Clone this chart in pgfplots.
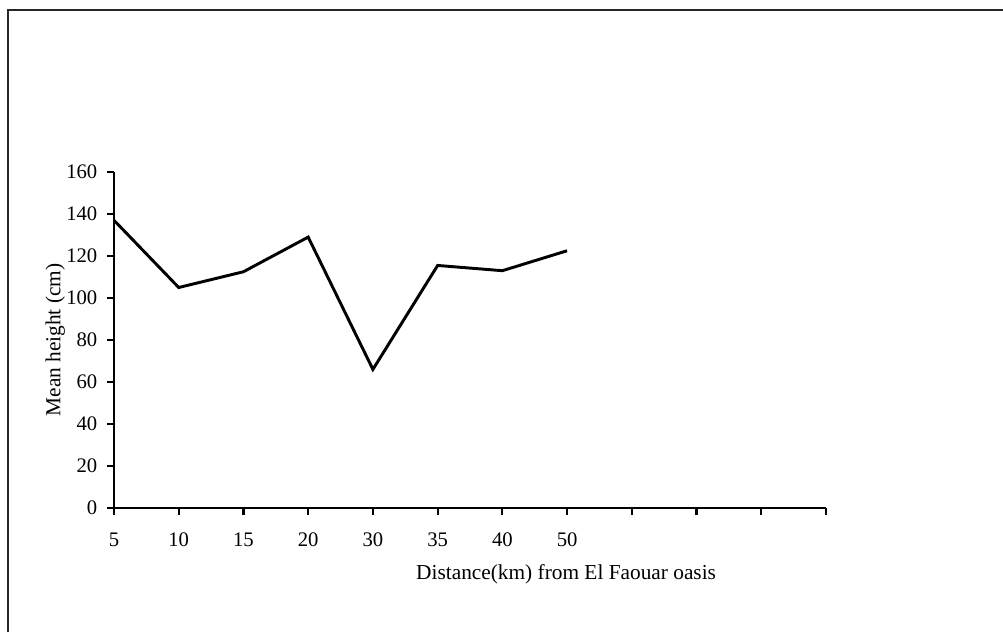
\documentclass[border=0pt]{standalone}
\usepackage{pgfplots}
\pgfplotsset{compat=1.18}
\usepackage{fontspec}
\setmainfont{Liberation Serif}
\begin{document}
\begin{tikzpicture}[x=0.75pt,y=0.75pt]
% page = 1003 x 632 px, axis origin at (114,508) px
\useasboundingbox (-114,-124) rectangle (889,508);
\draw[line width=1.4pt,black!85] (-106,-124) -- (-106,498) -- (889,498);
\begin{axis}[
    at={(0,0)}, anchor=origin,
    scale only axis,
    width=534pt, height=252pt,
    xmin=0, xmax=11, ymin=0, ymax=160,
    axis lines=left,
    axis line style={line width=1.8pt,-},
    xtick={0,1,...,11},
    xticklabels={5,10,15,20,30,35,40,50,,,,},
    ytick={0,20,...,160},
    tick align=outside,
    major tick length=5pt,
    tick style={line width=1.6pt,black},
    tick label style={font=\fontsize{15.5}{17}\selectfont},
    /pgf/number format/assume math mode=true,
    xticklabel style={yshift=-10pt},
    yticklabel style={xshift=-4pt},
    ylabel={Mean height (cm)},
    ylabel style={font=\fontsize{16}{18}\selectfont, at={(rel axis cs:0,0.5)}, anchor=center, yshift=44pt},
    xlabel={Distance(km) from El Faouar oasis},
    xlabel style={font=\fontsize{16}{18}\selectfont, at={(rel axis cs:0.635,0)}, anchor=center, yshift=-50pt},
    clip=false,
]
\addplot[black, line width=2.2pt, line join=miter] coordinates {
    (0,137) (1,105) (2,112.5) (3,129) (4,66) (5,115.5) (6,113) (7,122.5)
};
\end{axis}
\end{tikzpicture}
\end{document}
